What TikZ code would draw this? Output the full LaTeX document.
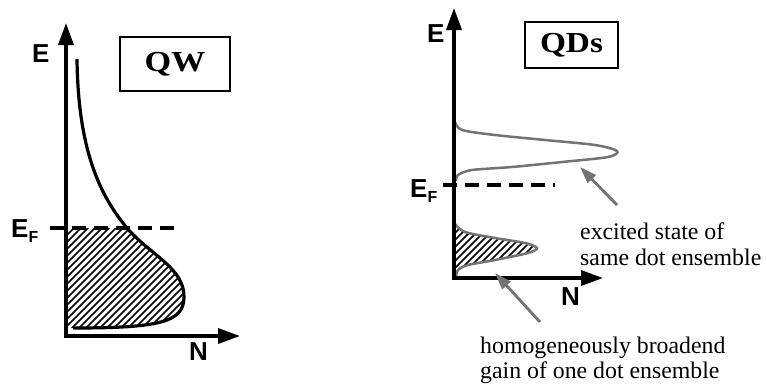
\documentclass[tikz,border=0pt]{standalone}
\usepackage{fontspec}
\setmainfont{Liberation Serif}
\setsansfont{Liberation Sans}
\usetikzlibrary{arrows.meta}
\begin{document}
\begin{tikzpicture}[x=1pt,y=-1pt,
  axis/.style={line width=3.4pt,-{Triangle[length=22pt,width=15pt]}},
  fermi/.style={line width=3.6pt,dash pattern=on 14pt off 8pt},
  lbl/.style={font=\sffamily\bfseries\fontsize{26}{26}\selectfont,inner sep=0pt},
  titlebox/.style={draw,line width=1.3pt,inner sep=0pt,font=\bfseries\fontsize{29}{29}\selectfont},
  note/.style={font=\fontsize{23.8}{26}\selectfont,inner sep=0pt,anchor=base west},
  hatch/.style={line width=1.5pt},
  qwcurve/.style={line width=3.2pt},
  qdcurve/.style={line width=2.5pt,black!55},
  pointer/.style={line width=2.8pt,black!55,-{Triangle[length=17pt,width=11pt]}}]
\useasboundingbox (0,0) rectangle (767,383);
\fill[white] (0,0) rectangle (767,383);
%%%%%%%%%%%%%%%% QW panel
\coordinate (O1) at (66,336);
\coordinate (Etip1) at (66,23);
\coordinate (Ntip1) at (240,336);
\def\qwpath{(77,59) .. controls (78,140) and (95,190) .. (127,228) .. controls (150,255) and (185,268) .. (184,298) .. controls (183,322) and (160,328) .. (73,328)}
% hatching
\begin{scope}
  \clip (66,228) rectangle (200,334);
  \clip \qwpath -- (60,328) -- (60,59) -- cycle;
  \foreach \c in {260,267,...,560} \draw[hatch] (\c-340,340) -- (\c-200,200);
\end{scope}
\draw[qwcurve] \qwpath;
\coordinate (F1a) at (50,228);
\coordinate (F1b) at (180,228);
\draw[fermi] (F1a) -- (F1b);
\draw[axis] ([yshift=1.7pt]O1) -- (Etip1);
\draw[axis] ([xshift=-1.7pt]O1) -- (Ntip1);
\node[lbl,anchor=base west] (E1) at (32,62) {E};
\node[lbl,anchor=base west] (N1) at (189,360) {N};
\node[lbl,anchor=base west] (EF1) at (11,237) {E\raisebox{-5pt}{\fontsize{16}{16}\selectfont F}};
\node[titlebox,minimum width=110pt,minimum height=54pt] (QW) at (175,64) {\scalebox{1.18}[1]{QW}};
%%%%%%%%%%%%%%%% QD panel
\coordinate (O2) at (454,278);
\coordinate (Etip2) at (454,8);
\coordinate (Ntip2) at (603,278);
\begin{scope}
  \clip (454,220) rectangle (545,277);
  \clip plot[smooth] coordinates {(455,224) (465,232) (495,238) (525,243) (537,248) (528,253) (495,260) (468,265) (458,270) (456,277)} -- cycle;
  \foreach \c in {660,667,...,840} \draw[hatch] (\c-290,290) -- (\c-210,210);
\end{scope}
\draw[qdcurve] plot[smooth] coordinates {(455,224) (465,232) (495,238) (525,243) (537,248) (528,253) (495,260) (468,265) (458,270) (456,277)};
\draw[qdcurve] plot[smooth] coordinates {(455,122) (462,130) (495,135) (545,140) (595,145) (617,151) (608,157) (562,162) (512,167) (472,170) (458,175) (456,181)};
\coordinate (F2a) at (443,185);
\coordinate (F2b) at (555,185);
\draw[fermi] (F2a) -- (F2b);
\draw[axis] ([yshift=1.7pt]O2) -- (Etip2);
\draw[axis] ([xshift=-1.7pt]O2) -- (Ntip2);
\node[lbl,anchor=base west] (E2) at (427,42) {E};
\node[lbl,anchor=base west] (N2) at (561,305) {N};
\node[lbl,anchor=base west] (EF2) at (410,197) {E\raisebox{-5pt}{\fontsize{16}{16}\selectfont F}};
\node[titlebox,minimum width=93pt,minimum height=46pt] (QDs) at (571.5,45) {\scalebox{1.15}[1]{QDs}};
% annotations
\node[note] (ex1) at (580,239) {excited state of};
\node[note] (ex2) at (580,265) {same dot ensemble};
\node[note] (ho1) at (480,353) {homogeneously broadend};
\node[note] (ho2) at (480,378) {gain of one dot ensemble};
\coordinate (A1tail) at (617,205);
\coordinate (A1tip) at (580,167);
\coordinate (A2tail) at (540,322);
\coordinate (A2tip) at (495,273);
\draw[pointer] (A1tail) -- (A1tip);
\draw[pointer] (A2tail) -- (A2tip);
\end{tikzpicture}
\end{document}
